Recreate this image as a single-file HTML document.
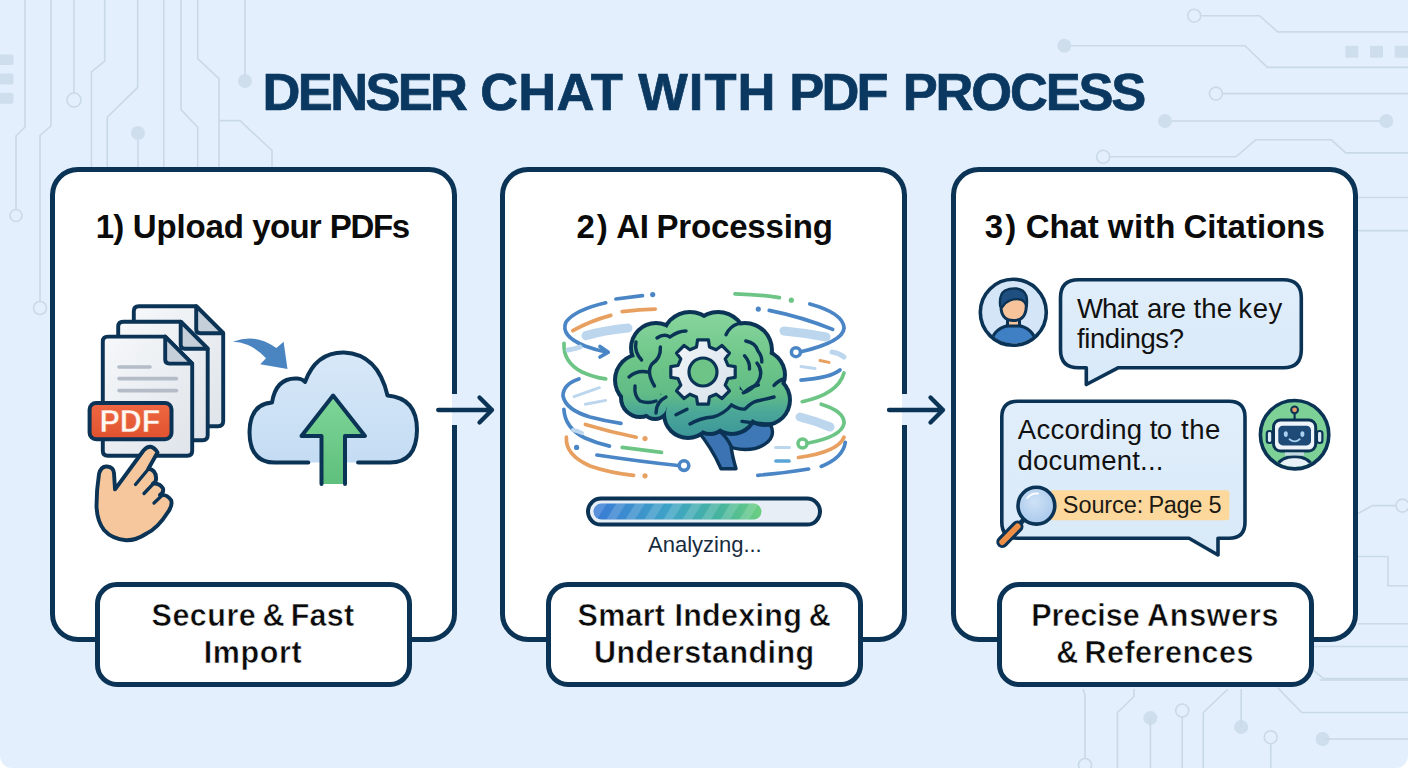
<!DOCTYPE html>
<html><head><meta charset="utf-8">
<style>
*{margin:0;padding:0;box-sizing:border-box}
html,body{width:1408px;height:768px;overflow:hidden;background:#fff}
body{font-family:"Liberation Sans",sans-serif;position:relative}
#bg{position:absolute;left:0;top:0;width:1408px;height:768px;background:#e3effc;border-radius:0 0 12px 12px;overflow:hidden}
.abs{position:absolute}
#title span{position:absolute;top:61px;font-weight:bold;font-size:52.5px;color:#0b3860;white-space:nowrap;-webkit-text-stroke:0.7px #0b3860}
.card{position:absolute;top:167px;width:407px;height:475px;border:5px solid #0a3355;border-radius:28px;background:#fff}
.ctitle{position:absolute;top:207.5px;text-align:center;font-weight:bold;font-size:33px;color:#0b0b0b;white-space:nowrap}
.label{position:absolute;top:582px;width:317px;height:105px;border:5px solid #0a3355;border-radius:22px;background:#fff;text-align:center;font-weight:bold;font-size:30.5px;line-height:37px;color:#0b0b0b;padding-top:10px;white-space:nowrap;-webkit-text-stroke:0.5px #fff}
.lt{position:absolute;font-weight:bold;font-size:30.5px;line-height:37px;color:#0b0b0b;white-space:nowrap;-webkit-text-stroke:0.5px #fff}
.gap{position:absolute;width:6px;height:31px;background:#e3effc}
.t{position:absolute;white-space:nowrap;color:#111}
</style></head>
<body>
<div id="bg">
<svg class="abs" style="left:0;top:0" width="1408" height="768" viewBox="0 0 1408 768" fill="none" stroke="#cad9e7" stroke-width="1.6">
<g>
<path d="M25 0V127L16 136V209"/><circle cx="16" cy="215.5" r="6"/>
<path d="M51 0V126L40 135.5V301"/><circle cx="40" cy="308" r="6.5"/>
<path d="M74 0V93"/><circle cx="74" cy="100" r="7"/>
<path d="M104.7 0V61L91.4 72V170"/>
<path d="M137.7 0V87.4L107.3 117.3V170"/>
<path d="M163.8 0V170"/>
<path d="M181 0V109.6L197.7 127.3V170"/>
<path d="M197.7 0V58.7L219 78.6V170"/>
<path d="M219 120.6H240L272 150.5V170"/>
<path d="M245 0V78"/>
<path d="M138 133V170"/>
</g>
<g fill="#cfdeec" stroke="none">
<circle cx="245" cy="81" r="7"/>
<circle cx="138" cy="133" r="7"/>
<rect x="-4" y="54.5" width="17.5" height="10.5" rx="2"/>
<rect x="-4" y="73.5" width="17.5" height="11" rx="2"/>
<rect x="-4" y="92.8" width="17.5" height="11" rx="2"/>
<circle cx="1064.3" cy="45.7" r="7"/>
<circle cx="1165" cy="121" r="7"/>
<circle cx="1386.3" cy="121" r="7"/>
<rect x="1345.3" y="45.7" width="13" height="12" rx="1"/>
<rect x="1370" y="45.7" width="13" height="12" rx="1"/>
<rect x="1394.7" y="45.7" width="14" height="12" rx="1"/>
<circle cx="1150.4" cy="718.1" r="7"/>
<circle cx="1241.2" cy="727" r="7"/>
<circle cx="1322.6" cy="739" r="7"/>
</g>
<g>
<circle cx="1194.2" cy="15.7" r="6.5"/><path d="M1200.7 15.7H1259.5L1277.8 31.9H1408"/>
<path d="M1071 45.7H1245L1267.4 67.4H1408"/>
<circle cx="1215.9" cy="93.6" r="6.5"/><path d="M1222.4 93.6H1408"/>
<path d="M1172 121H1380"/>
<circle cx="1103.2" cy="156.8" r="6.5"/><path d="M1109.7 156.8H1236L1255.6 139.8H1331.4L1345.8 152.9H1408"/>
<path d="M1358 197.5H1408M1358 230.6H1408"/>
<path d="M1358 513.5L1372.4 505.6H1396"/><circle cx="1402.5" cy="505.6" r="6.5"/>
<path d="M1358 556.5H1388V585.8H1408"/>
<path d="M1358 623.8H1408"/>
<path d="M1313 646.5H1408"/>
<path d="M1313 670L1323.5 678.6H1408"/>
<path d="M1319.5 680H1408"/>
<path d="M1083 689L1085 695V758"/><circle cx="1085" cy="765" r="6.5"/>
<path d="M1134 689V696.5L1117.4 712.5V768"/>
<path d="M1150.4 718V768"/>
<circle cx="1182.2" cy="710.5" r="6.5"/><path d="M1182.2 717V768"/>
<path d="M1228 689L1203.3 712.5V768"/>
<path d="M1241.2 689V727"/>
<circle cx="1270.7" cy="737.2" r="6.5"/><path d="M1270.7 743.7V768"/>
<path d="M1277.6 687.6L1301.7 712.5H1408"/>
<path d="M1322.6 739H1408"/>
</g>
</svg>

</div>
<div id="title"><span style="left:262.6px;letter-spacing:-2.68px">DENSER</span><span style="left:480.2px;letter-spacing:0.27px">CHAT</span><span style="left:638.2px;letter-spacing:1.07px">WITH</span><span style="left:789.2px;letter-spacing:-2.8px">PDF</span><span style="left:902.7px;letter-spacing:-2.18px">PROCESS</span></div>

<div class="card" style="left:50px"></div>
<div class="card" style="left:500px"></div>
<div class="card" style="left:951px"></div>

<div class="ctitle" style="left:95.8px;letter-spacing:-1.0px">1)</div><div class="ctitle" style="left:132.8px;letter-spacing:-0.16px">Upload</div><div class="ctitle" style="left:252.3px;letter-spacing:-0.7px">your</div><div class="ctitle" style="left:329.8px;letter-spacing:-1.37px">PDFs</div><div class="ctitle" style="left:576.5px;letter-spacing:1.9px">2)</div><div class="ctitle" style="left:616.2px;letter-spacing:-0.3px">AI</div><div class="ctitle" style="left:656.5px;letter-spacing:-0.18px">Processing</div><div class="ctitle" style="left:984.8px;letter-spacing:2.1px">3)</div><div class="ctitle" style="left:1025.7px;letter-spacing:-0.07px">Chat</div><div class="ctitle" style="left:1107.8px;letter-spacing:0.57px">with</div><div class="ctitle" style="left:1183.5px;letter-spacing:0.03px">Citations</div>

<div class="label" style="left:95px"></div>
<div class="label" style="left:546px"></div>
<div class="label" style="left:997px"></div>
<div class="lt" style="left:151.6px;top:597px;letter-spacing:0.48px">Secure</div><div class="lt" style="left:262.5px;top:597px;letter-spacing:0px">&amp;</div><div class="lt" style="left:290.7px;top:597px;letter-spacing:0.23px">Fast</div><div class="lt" style="left:203.7px;top:634px;letter-spacing:0.6px">Import</div><div class="lt" style="left:577.6px;top:597px;letter-spacing:0.23px">Smart</div><div class="lt" style="left:674.4px;top:597px;letter-spacing:0.3px">Indexing</div><div class="lt" style="left:808.7px;top:597px;letter-spacing:0px">&amp;</div><div class="lt" style="left:594px;top:634px;letter-spacing:0.41px">Understanding</div><div class="lt" style="left:1031.3px;top:597px;letter-spacing:-0.02px">Precise</div><div class="lt" style="left:1147.1px;top:597px;letter-spacing:0.7px">Answers</div><div class="lt" style="left:1056.2px;top:634px;letter-spacing:0px">&amp;</div><div class="lt" style="left:1084.5px;top:634px;letter-spacing:0.49px">References</div>

<div class="gap" style="left:452px;top:394px"></div>
<div class="gap" style="left:902px;top:394px"></div>
<svg class="abs" style="left:0;top:0" width="1408" height="768" viewBox="0 0 1408 768" fill="none">
<defs>
<linearGradient id="docg" x1="0" y1="0" x2="1" y2="1"><stop offset="0" stop-color="#f6f8fa"/><stop offset="1" stop-color="#dfe4ea"/></linearGradient>
<linearGradient id="pdfg" x1="0" y1="0" x2="0" y2="1"><stop offset="0" stop-color="#ef6842"/><stop offset="1" stop-color="#e0522f"/></linearGradient>
<linearGradient id="cloudg" x1="0" y1="0" x2="0" y2="1"><stop offset="0" stop-color="#d7e8f8"/><stop offset="1" stop-color="#c4dcf3"/></linearGradient>
<linearGradient id="greeng" x1="0" y1="0" x2="0" y2="1"><stop offset="0" stop-color="#7dd698"/><stop offset="1" stop-color="#5fbf7c"/></linearGradient>
<linearGradient id="braing" gradientUnits="userSpaceOnUse" x1="0" y1="315" x2="0" y2="440"><stop offset="0" stop-color="#86d59c"/><stop offset="0.4" stop-color="#6cc487"/><stop offset="0.64" stop-color="#60bb87"/><stop offset="0.78" stop-color="#4aa798"/><stop offset="1" stop-color="#3a9499"/></linearGradient>
<linearGradient id="progg" gradientUnits="userSpaceOnUse" x1="593" y1="0" x2="762" y2="0"><stop offset="0" stop-color="#3a7ad6"/><stop offset="0.45" stop-color="#3ea3c6"/><stop offset="0.75" stop-color="#46b49e"/><stop offset="1" stop-color="#6ccf80"/></linearGradient>
<pattern id="stripes" patternUnits="userSpaceOnUse" width="19" height="16" patternTransform="skewX(-32)"><rect width="9.5" height="16" fill="#ffffff" opacity="0.16"/></pattern>
<linearGradient id="gearg" x1="0" y1="0" x2="1" y2="1"><stop offset="0" stop-color="#f3f6f9"/><stop offset="1" stop-color="#d6e0ea"/></linearGradient>
<linearGradient id="bubg" x1="0" y1="0" x2="0" y2="1"><stop offset="0" stop-color="#e1eefb"/><stop offset="1" stop-color="#d8e9f8"/></linearGradient>
<radialGradient id="lensg" cx="0.45" cy="0.4" r="0.6"><stop offset="0" stop-color="#cfe2f6"/><stop offset="1" stop-color="#a9c9ec"/></radialGradient>
</defs>
<g fill="none" stroke="#0a3355" stroke-width="4.3" stroke-linecap="round" stroke-linejoin="round">
<path d="M438.2 410H492M479.5 397.5L492 410L479.5 422.5"/>
<path d="M889 410H943M930.5 397.5L943 410L930.5 422.5"/>
</g>
<g stroke="#0a3355" stroke-width="3.9" stroke-linejoin="round" stroke-linecap="round">
<path d="M138.8 306.2H196.2L223.2 333.2V421.2Q223.2 426.2 218.2 426.2H138.8Q133.8 426.2 133.8 421.2V311.2Q133.8 306.2 138.8 306.2Z" fill="url(#docg)"/><path d="M196.2 306.2V329.2Q196.2 333.2 200.2 333.2H223.2Z" fill="#c5cfda"/>
<path d="M123.2 321.7H180.7L207.7 348.7V435.3Q207.7 440.3 202.7 440.3H123.2Q118.2 440.3 118.2 435.3V326.7Q118.2 321.7 123.2 321.7Z" fill="url(#docg)"/><path d="M180.7 321.7V344.7Q180.7 348.7 184.7 348.7H207.7Z" fill="#c5cfda"/>
<path d="M107.8 336.6H165.2L192.2 363.6V450.8Q192.2 455.8 187.2 455.8H107.8Q102.8 455.8 102.8 450.8V341.6Q102.8 336.6 107.8 336.6Z" fill="url(#docg)"/><path d="M165.2 336.6V359.6Q165.2 363.6 169.2 363.6H192.2Z" fill="#c5cfda"/>
</g>
<g stroke="#b3bcc7" stroke-width="3.6" stroke-linecap="round"><path d="M119 367H150M119 378.6H176.5M119 390.6H176.5"/></g>
<rect x="89.6" y="403" width="81.9" height="36.3" rx="6.5" fill="url(#pdfg)" stroke="#0a3355" stroke-width="4"/>
<text x="99.6" y="432.2" font-family="Liberation Sans" font-weight="bold" font-size="30.5" fill="#fff8f2" stroke="#e65a36" stroke-width="0.5" letter-spacing="-0.1">PDF</text>
<path d="M115 489.4L143.5 450.5Q151 442 157.5 452.5L148.5 468.5Q156 470 156 478Q156.5 482 153 483.5Q160 483 163 488.5Q164 492.5 160 495Q167 494 171 500Q173 505 168 512Q158 528 146.6 533.5Q136 540.5 126 540.3Q112 539 104 530Q97 521 96.5 506Q96.5 490 99 474Q101 466 107 466.5Q113.5 467 114 473Z" fill="#f6c79c" stroke="#0a3355" stroke-width="3.9" stroke-linejoin="round"/>
<path d="M135.5 484.5L148 469.5M144 493.5L153.5 483.5M154 503L162.5 495" stroke="#0a3355" stroke-width="3.3" stroke-linecap="round" fill="none"/>
<path d="M232.8 341.7Q250 335.5 264.1 341.2Q271 344 276.4 347.9L283.6 341.7L287.5 369.1L260.2 364.2L266 358.3Q258 349.5 248 345Q240 341.8 232.8 341.7Z" fill="#4a85c1"/>
<path d="M308.3 462.6H275Q249.5 462.4 249.5 432Q250 404 272 402.5Q276 377.5 297 378.5Q303 379 305 382Q316 352 344 352.5Q378 354 387.5 395.5Q417 398 417 430Q416.5 462.4 390 462.6H358.1" fill="url(#cloudg)" stroke="#0a3355" stroke-width="4" stroke-linecap="round" stroke-linejoin="round"/>
<path d="M321.5 484V436H301.5L333.1 395.5L365 436H345V484" fill="url(#greeng)" stroke="#0a3355" stroke-width="4" stroke-linecap="round" stroke-linejoin="round"/>
<g fill="none" stroke-linecap="round">
<path d="M605.7 302.8Q575 310 566 322Q560 336 585 346Q596 350 606 352" stroke="#4a86c6" stroke-width="3.7"/>
<path d="M615.9 299L642.5 295.7" stroke="#4a86c6" stroke-width="3.7"/>
<path d="M572.8 330.7Q590 321 610.8 315.4" stroke="#e8a060" stroke-width="3.7"/>
<path d="M622.2 311.6Q640 309.5 655.2 309.1" stroke="#e8a060" stroke-width="3.7"/>
<path d="M586 335.7Q606 330 628 328.1" stroke="#bcd6ee" stroke-width="9"/>
<path d="M564 343.3Q563 362 582 372Q593 377 605.7 378.9" stroke="#6cc585" stroke-width="3.7"/>
<path d="M579 378.9Q563 384 563 396Q566 410 590 417Q605 421 621 423.3" stroke="#4a86c6" stroke-width="3.7"/>
<path d="M574 396.6L599.4 387.7M585.4 404.2L605.7 400.4" stroke="#bcd6ee" stroke-width="3.0"/>
<path d="M585.4 424.5Q610 432 636.2 437.2" stroke="#e8a060" stroke-width="3.7"/>
<path d="M563.9 409.3Q565 428 585 438Q596 443 609.5 446.1" stroke="#4a86c6" stroke-width="3.7"/>
<path d="M622.2 447.4Q642 450 661.5 452.4" stroke="#6cc585" stroke-width="3.7"/>
<path d="M566.4 437.2Q565 455 590 466Q610 473 633.6 475.3" stroke="#e8a060" stroke-width="3.7"/>
<path d="M596.9 455Q640 461.5 678 465.5" stroke="#4a86c6" stroke-width="3.7"/>
<path d="M735 293.9Q760 294.5 779.4 297.7" stroke="#6cc585" stroke-width="3.7"/>
<path d="M769.2 310.4Q802 317 832.7 329.4" stroke="#4a86c6" stroke-width="3.7"/>
<path d="M809.8 304Q843 313 844.1 328Q843 342 800 352" stroke="#4a86c6" stroke-width="3.7"/>
<path d="M784 331Q806 333 826 337" stroke="#bcd6ee" stroke-width="9"/>
<path d="M820 360.5L829 362.4" stroke="#e8a060" stroke-width="3.0"/>
<path d="M801 366.5L815 368.5" stroke="#bcd6ee" stroke-width="3.0"/>
<path d="M801 380.1Q830 378 840 370" stroke="#4a86c6" stroke-width="3.7"/>
<path d="M802.2 401.7Q838 394 844 373" stroke="#6cc585" stroke-width="3.7"/>
<path d="M821.2 404.2Q844 411 844.1 423Q842 437 806 443.5" stroke="#6cc585" stroke-width="3.7"/>
<path d="M800 417Q816 421 830 427" stroke="#bcd6ee" stroke-width="9"/>
<path d="M798.4 457.5Q838 452 844 437.2" stroke="#e8a060" stroke-width="3.7"/>
<path d="M821.2 466.4Q843 458 845.3 442.3" stroke="#4a86c6" stroke-width="3.7"/>
<path d="M757.8 475.3Q785 473 808.6 469" stroke="#4a86c6" stroke-width="3.7"/>
<path d="M775.6 447.5H789.5" stroke="#bcd6ee" stroke-width="3.0"/>
<path d="M776 461H789" stroke="#5aa5d6" stroke-width="3.7"/>
<path d="M832 352Q839 353 844 357" stroke="#bcd6ee" stroke-width="5"/>
<path d="M568 350Q575 349 580 347" stroke="#bcd6ee" stroke-width="5"/>
<path d="M573 430Q578 431 582 433" stroke="#bcd6ee" stroke-width="4"/>
</g>
<path d="M600 346.5L608.3 352.2L600 357" fill="none" stroke="#4a86c6" stroke-width="3.7" stroke-linecap="round" stroke-linejoin="round"/>
<circle cx="652.7" cy="294.6" r="2.6" fill="#4a86c6"/>
<circle cx="645" cy="438.5" r="2.6" fill="#e8a060"/>
<circle cx="576.6" cy="447.4" r="2.6" fill="#4a86c6"/>
<circle cx="645" cy="475.8" r="2.6" fill="#e8a060"/>
<circle cx="758.3" cy="309.1" r="2.6" fill="#4a86c6"/>
<circle cx="791.3" cy="300.2" r="2.6" fill="#6cc585"/>
<circle cx="795.9" cy="352.2" r="4.5" fill="#fff" stroke="#4a86c6" stroke-width="3.5"/>
<circle cx="802.5" cy="443.5" r="4.5" fill="#fff" stroke="#6cc585" stroke-width="3.5"/>
<circle cx="684" cy="465.6" r="4.8" fill="#fff" stroke="#4a86c6" stroke-width="3.6"/>
<ellipse cx="745" cy="432" rx="27.5" ry="17.5" fill="#3f78b7" stroke="#0a3355" stroke-width="3.4"/>
<path d="M697 430Q712 448 721 468.7H736Q732 455 731 446Q727 437 718 430Z" fill="#3c73b2" stroke="#0a3355" stroke-width="3.4" stroke-linejoin="round"/>
<g>
<circle cx="641" cy="380" r="28" fill="#0a3355"/>
<circle cx="656" cy="348" r="27" fill="#0a3355"/>
<circle cx="690" cy="340" r="30" fill="#0a3355"/>
<circle cx="718" cy="340" r="30" fill="#0a3355"/>
<circle cx="745" cy="350" r="29" fill="#0a3355"/>
<circle cx="760" cy="375" r="27" fill="#0a3355"/>
<circle cx="765" cy="400" r="27" fill="#0a3355"/>
<circle cx="640" cy="398" r="21" fill="#0a3355"/>
<circle cx="700" cy="385" r="44" fill="#0a3355"/>
<circle cx="688" cy="414" r="26" fill="#0a3355"/>
<circle cx="732" cy="410" r="26" fill="#0a3355"/>
<circle cx="655" cy="405" r="16" fill="#0a3355"/>
<circle cx="710" cy="416" r="20" fill="#0a3355"/>
<circle cx="641" cy="380" r="24" fill="url(#braing)"/>
<circle cx="656" cy="348" r="23" fill="url(#braing)"/>
<circle cx="690" cy="340" r="26" fill="url(#braing)"/>
<circle cx="718" cy="340" r="26" fill="url(#braing)"/>
<circle cx="745" cy="350" r="25" fill="url(#braing)"/>
<circle cx="760" cy="375" r="23" fill="url(#braing)"/>
<circle cx="765" cy="400" r="23" fill="url(#braing)"/>
<circle cx="640" cy="398" r="17" fill="url(#braing)"/>
<circle cx="700" cy="385" r="40" fill="url(#braing)"/>
<circle cx="688" cy="414" r="22" fill="url(#braing)"/>
<circle cx="732" cy="410" r="22" fill="url(#braing)"/>
<circle cx="655" cy="405" r="12" fill="url(#braing)"/>
<circle cx="710" cy="416" r="16" fill="url(#braing)"/>
</g>
<g fill="none" stroke="#0a3355" stroke-width="3.4" stroke-linecap="round">
<path d="M657 338Q664 333 670 337Q678 331 686 331"/>
<path d="M641.6 360Q634 352 636 342"/>
<path d="M660.4 347Q661 358 652 364Q646 372 654.5 386"/>
<path d="M629 377Q637 370 647.5 372"/>
<path d="M635 386Q634 396 640 401Q648 404 656 401"/>
<path d="M666 397Q656 402 656 413"/>
<path d="M676 414.7L687 409.3"/>
<path d="M690 424Q700 418 713 417Q724 414 731.5 405Q740 410 745 409Q752 402 757 401Q766 399 774 397"/>
<path d="M745 391.7Q752 386 758.4 385"/>
<path d="M742 421.4Q758 424 772 424"/>
<path d="M726 334.7Q730 326 738.3 323.6"/>
<path d="M745.8 341Q756 343 758 351Q762 356 761.8 362"/>
<path d="M744.5 355.7Q750 362 749.5 369"/>
<path d="M757 363Q764 372 758 382Q752 390 743.3 392.8"/>
<path d="M774 385.4Q779 380 784 379"/>
</g>
<path d="M696.5 347.0L697.6 339.8L708.4 339.8L709.5 347.0L716.1 349.8L721.9 345.5L729.5 353.1L725.2 358.9L728.0 365.5L735.2 366.6L735.2 377.4L728.0 378.5L725.2 385.1L729.5 390.9L721.9 398.5L716.1 394.2L709.5 397.0L708.4 404.2L697.6 404.2L696.5 397.0L689.9 394.2L684.1 398.5L676.5 390.9L680.8 385.1L678.0 378.5L670.8 377.4L670.8 366.6L678.0 365.5L680.8 358.9L676.5 353.1L684.1 345.5L689.9 349.8Z" fill="url(#gearg)" stroke="#0a3355" stroke-width="3.2" stroke-linejoin="round"/>
<circle cx="703" cy="372" r="14" fill="#6dc486" stroke="#0a3355" stroke-width="3.2"/>
<rect x="588" y="498.6" width="232" height="26" rx="13" fill="#e7eef6" stroke="#0a3355" stroke-width="4"/>
<rect x="593.5" y="503.6" width="168" height="16" rx="8" fill="url(#progg)"/>
<rect x="593.5" y="503.6" width="168" height="16" rx="8" fill="url(#stripes)"/>
<clipPath id="ua"><circle cx="1013.3" cy="312.3" r="31.3"/></clipPath>
<clipPath id="ra"><circle cx="1294.6" cy="434.7" r="32.3"/></clipPath>
<circle cx="1013.3" cy="312.3" r="33" fill="#d3e5f7"/>
<g clip-path="url(#ua)" stroke="#0a3355" stroke-width="3"><path d="M990 350Q990 327 1013.5 324.5Q1037 327 1037 350Z" fill="#3f7fc4"/><rect x="1007.5" y="316" width="12" height="10" fill="#f7c39b"/></g>
<path d="M1001 305Q1001 293 1013.6 293Q1026.3 293 1026.3 305Q1026.5 320.5 1013.6 320.5Q1000.5 320.5 1001 305Z" fill="#f7c39b" stroke="#0a3355" stroke-width="3" stroke-linejoin="round"/>
<path d="M1000.2 306Q998.8 294.5 1005 290.5Q1010 288 1016.5 288.5Q1024 289.5 1026.4 296Q1027.5 301 1026.6 306Q1024.5 300.5 1020.5 299.5Q1015 298.5 1010 300.5Q1005 302.5 1002.2 307Z" fill="#1f4f80" stroke="#0a3355" stroke-width="2.4" stroke-linejoin="round"/>
<circle cx="1013.3" cy="312.3" r="33" fill="none" stroke="#0a3355" stroke-width="3.6"/>
<path d="M1078.5 279.8H1283.3Q1301.3 279.8 1301.3 297.8V349.8Q1301.3 367.8 1283.3 367.8H1118L1086.3 384.5V367.8H1078.5Q1060.5 367.8 1060.5 349.8V297.8Q1060.5 279.8 1078.5 279.8Z" fill="url(#bubg)" stroke="#0a3355" stroke-width="3.6" stroke-linejoin="round"/>
<path d="M1017.8 401.2H1229Q1245 401.2 1245 417.2V522.3Q1245 538.3 1229 538.3H1218V555L1189 538.3H1017.8Q1001.8 538.3 1001.8 522.3V417.2Q1001.8 401.2 1017.8 401.2Z" fill="url(#bubg)" stroke="#0a3355" stroke-width="3.6" stroke-linejoin="round"/>
<rect x="1050" y="490.3" width="179.4" height="30" rx="3" fill="#fcd89d"/>
<path d="M1002.3 542L1017.5 526.5" stroke="#0a3355" stroke-width="12" stroke-linecap="round"/>
<path d="M1002.3 542L1017.5 526.5" stroke="#ef8f46" stroke-width="6" stroke-linecap="round"/>
<path d="M1020 523.6L1025 518.6" stroke="#0a3355" stroke-width="5"/>
<circle cx="1036.4" cy="505.7" r="18.4" fill="url(#lensg)" stroke="#0a3355" stroke-width="3.6"/>
<path d="M1027.5 498Q1031 493 1038 493.5" fill="none" stroke="#fff" stroke-width="2" stroke-linecap="round" opacity="0.9"/>
<circle cx="1294.6" cy="434.7" r="34.2" fill="#7ed196"/>
<g clip-path="url(#ra)"><path d="M1275.5 472Q1276 457.5 1294.6 456.5Q1313 457.5 1313.5 472Z" fill="#e9f1f8" stroke="#0a3355" stroke-width="3"/></g>
<path d="M1294.6 413V420" stroke="#0a3355" stroke-width="2.2"/>
<circle cx="1294.6" cy="409.8" r="3.4" fill="#e89a6a" stroke="#0a3355" stroke-width="2"/>
<rect x="1266.8" y="431" width="5.5" height="12" rx="2.5" fill="#dcebf7" stroke="#0a3355" stroke-width="2.2"/>
<rect x="1316.9" y="431" width="5.5" height="12" rx="2.5" fill="#dcebf7" stroke="#0a3355" stroke-width="2.2"/>
<rect x="1273.5" y="420" width="42.2" height="31" rx="7" fill="#eef4fa" stroke="#0a3355" stroke-width="3"/>
<rect x="1278.3" y="425.8" width="32.7" height="19.6" rx="4.5" fill="#1e4a78"/>
<ellipse cx="1285.8" cy="434.1" rx="2" ry="2.8" fill="#a9d1f1"/><ellipse cx="1302.4" cy="434.1" rx="2" ry="2.8" fill="#a9d1f1"/>
<path d="M1289.5 439.3Q1294.6 443.5 1299.7 439.3" fill="none" stroke="#a9d1f1" stroke-width="1.8" stroke-linecap="round"/>
<rect x="1285" y="452.5" width="19" height="3" fill="#c9d8e6"/>
<circle cx="1294.6" cy="434.7" r="34.2" fill="none" stroke="#0a3355" stroke-width="3.6"/>
</svg>
<div class="t" style="left:648px;top:532px;font-size:22px;color:#182c40">Analyzing...</div>
<div class="t" style="left:1077px;top:293.5px;font-size:27.5px;line-height:30.5px;letter-spacing:-0.92px">What</div><div class="t" style="left:1147.1px;top:293.5px;font-size:27.5px;line-height:30.5px;letter-spacing:-0.45px">are</div><div class="t" style="left:1193.4px;top:293.5px;font-size:27.5px;line-height:30.5px;letter-spacing:0.25px">the</div><div class="t" style="left:1238.3px;top:293.5px;font-size:27.5px;line-height:30.5px;letter-spacing:0.6px">key</div><div class="t" style="left:1077px;top:324px;font-size:27.5px;line-height:30.5px;letter-spacing:-0.39px">findings?</div><div class="t" style="left:1017.8px;top:414px;font-size:27.5px;line-height:31px;letter-spacing:0.26px">According</div><div class="t" style="left:1149.8px;top:414px;font-size:27.5px;line-height:31px;letter-spacing:-0.7px">to</div><div class="t" style="left:1181.1px;top:414px;font-size:27.5px;line-height:31px;letter-spacing:0.45px">the</div><div class="t" style="left:1017.6px;top:445px;font-size:27.5px;line-height:31px;letter-spacing:0.22px">document...</div>
<div class="t" style="left:1062.8px;top:492px;font-size:23.5px;letter-spacing:-0.08px;color:#1d1a14">Source:</div><div class="t" style="left:1148.4px;top:492px;font-size:23.5px;letter-spacing:-0.3px;color:#1d1a14">Page</div><div class="t" style="left:1208.5px;top:492px;font-size:23.5px;letter-spacing:0px;color:#1d1a14">5</div>
</body></html>
